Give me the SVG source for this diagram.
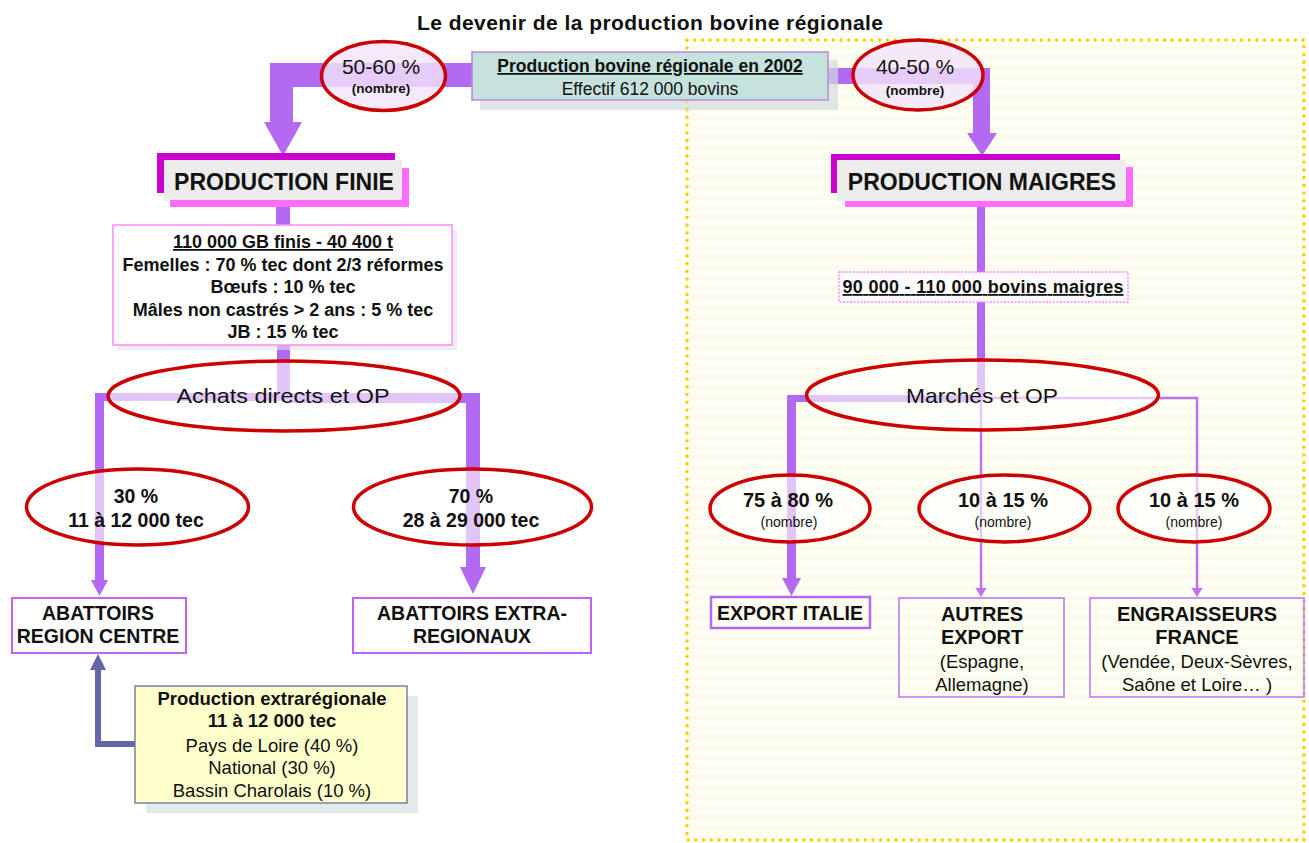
<svg xmlns="http://www.w3.org/2000/svg" width="1309" height="843" viewBox="0 0 1309 843">
<defs>
<style>
.t{font-family:"Liberation Sans",Arial,Helvetica,sans-serif;fill:#111;text-anchor:middle}
.b{font-weight:bold}
.u{text-decoration:underline}
.ell{fill:#fff;fill-opacity:0.62;stroke:#cc0000;stroke-width:3.5}
.ellTop{fill:#f1e5fa;fill-opacity:0.8;stroke:#cc0000;stroke-width:3.5}
.thick{fill:#b469f2}
.thin{stroke:#c070f0;stroke-width:2.5;fill:none}
.box{fill:#fff;stroke:#c066ee;stroke-width:2}
.boxR{fill:none;stroke:#c888f5;stroke-width:1.8}
.mag{fill:#cc00cc}
.pink{fill:#ff6cff}
.gray{fill:#ececec}
</style>
<pattern id="stripes" width="10" height="10" patternUnits="userSpaceOnUse">
<rect width="10" height="10" fill="#fffff5"/>
<rect y="5" width="10" height="5" fill="#fcfcec"/>
</pattern>
</defs>
<rect width="1309" height="843" fill="#ffffff"/>

<g id="region-maigres">
<rect x="687" y="40" width="617" height="800" fill="url(#stripes)" stroke="#ffcc00" stroke-width="3.5" stroke-dasharray="0.1 7.6" stroke-linecap="round"/>
</g>

<g id="title">
<text class="t b" x="650" y="30" font-size="21" textLength="466" lengthAdjust="spacing">Le devenir de la production bovine régionale</text>
</g>

<g id="connectors">
<path class="thick" d="M472,63 L270,63 L270,122 L264,122 L283,156 L302,122 L293,122 L293,87 L472,87 Z"/>
<path class="thick" d="M828,68 L990,68 L990,133 L997,133 L982,156 L967,133 L973,133 L973,84 L828,84 Z"/>
<rect class="thick" x="276" y="207" width="14" height="19"/>
<rect class="thick" x="277" y="345" width="13" height="54"/>
<path class="thick" d="M285,393 L95,393 L95,580 L91,580 L99.5,596 L108,580 L104,580 L104,401 L285,401 Z"/>
<path class="thick" d="M285,393 L480,393 L480,567 L486,567 L473,594 L460,567 L466,567 L466,403 L285,403 Z"/>
<path d="M135,744 L98,744 L98,668" fill="none" stroke="#6464a8" stroke-width="6"/>
<path d="M90,670 L106,670 L98,654 Z" fill="#6464a8"/>
<rect class="thick" x="977" y="207" width="8" height="65"/>
<rect class="thick" x="977" y="302" width="8" height="96"/>
<path class="thick" d="M982,395 L787,395 L787,578 L782,578 L791.5,596 L801,578 L796,578 L796,402 L982,402 Z"/>
<path class="thin" d="M981,398 L981,590"/>
<path d="M975.5,588 L986.5,588 L981,597 Z" fill="#c070f0"/>
<path class="thin" d="M982,398 L1197,398 L1197,590"/>
<path d="M1191.5,588 L1202.5,588 L1197,597 Z" fill="#c070f0"/>
</g>

<g id="node-production-2002">
<rect x="480" y="60" width="358" height="50" fill="#d3dcdc" opacity="0.7"/>
<rect x="472" y="52" width="356" height="48" fill="#c6e2dc" stroke="#bb88dd" stroke-width="1.5"/>
<text class="t b u" x="650" y="72" font-size="17.5">Production bovine régionale en 2002</text>
<text class="t" x="650" y="95" font-size="17.5">Effectif 612 000 bovins</text>
</g>

<g id="node-pct-finie">
<ellipse class="ellTop" cx="383.5" cy="76" rx="62" ry="34.5"/>
<text class="t" x="381" y="74" font-size="21">50-60 %</text>
<text class="t b" x="381" y="93" font-size="13.5">(nombre)</text>
</g>

<g id="node-pct-maigres">
<ellipse class="ellTop" cx="918" cy="75" rx="65" ry="35"/>
<text class="t" x="915" y="74" font-size="21">40-50 %</text>
<text class="t b" x="915" y="95" font-size="13.5">(nombre)</text>
</g>

<g id="node-production-finie">
<rect class="mag" x="157" y="153" width="238" height="7"/>
<rect class="mag" x="157" y="153" width="7" height="40"/>
<rect class="gray" x="164" y="160" width="238" height="41"/>
<rect class="pink" x="402" y="168" width="7" height="39"/>
<rect class="pink" x="170" y="200" width="239" height="7"/>
<text class="t b" x="284" y="190" font-size="23">PRODUCTION FINIE</text>
</g>

<g id="node-finie-detail">
<rect x="118" y="230" width="339" height="120" fill="#e2e2e2" opacity="0.6"/>
<rect x="113" y="225" width="339" height="120" fill="#fff" stroke="#ff88ff" stroke-width="1.5"/>
<text class="t b u" x="283" y="248" font-size="18">110 000 GB finis - 40 400 t</text>
<text class="t b" x="283" y="271" font-size="18">Femelles : 70 % tec dont 2/3 réformes</text>
<text class="t b" x="283" y="293" font-size="18">Bœufs : 10 % tec</text>
<text class="t b" x="283" y="316" font-size="18">Mâles non castrés &gt; 2 ans : 5 % tec</text>
<text class="t b" x="283" y="338" font-size="18">JB : 15 % tec</text>
</g>

<g id="node-achats">
<ellipse class="ell" cx="284" cy="396" rx="176" ry="35"/>
<text class="t" x="283" y="403" font-size="21" textLength="213" lengthAdjust="spacingAndGlyphs">Achats directs et OP</text>
</g>

<g id="node-pct-30">
<ellipse class="ell" cx="137.5" cy="507" rx="111" ry="38"/>
<text class="t b" x="136" y="503" font-size="19.5">30 %</text>
<text class="t b" x="136" y="527" font-size="19.5">11 à 12 000 tec</text>
</g>

<g id="node-pct-70">
<ellipse class="ell" cx="472.5" cy="507" rx="119" ry="38"/>
<text class="t b" x="471" y="503" font-size="19.5">70 %</text>
<text class="t b" x="471" y="527" font-size="19.5">28 à 29 000 tec</text>
</g>

<g id="node-abattoirs-centre">
<rect class="box" x="12" y="598" width="174" height="55"/>
<text class="t b" x="98" y="620" font-size="19.5">ABATTOIRS</text>
<text class="t b" x="98" y="643" font-size="19.5">REGION CENTRE</text>
</g>

<g id="node-abattoirs-extra">
<rect class="box" x="353" y="598" width="238" height="55"/>
<text class="t b" x="472" y="620" font-size="19.5">ABATTOIRS EXTRA-</text>
<text class="t b" x="472" y="643" font-size="19.5">REGIONAUX</text>
</g>

<g id="node-production-extraregionale">
<rect x="146" y="696" width="272" height="117" fill="#d4e2e2" opacity="0.7"/>
<rect x="135" y="686" width="272" height="117" fill="#ffffcc" stroke="#7f7f9f" stroke-width="1.5"/>
<text class="t b" x="272" y="705" font-size="18.5">Production extrarégionale</text>
<text class="t b" x="272" y="727" font-size="18.5">11 à 12 000 tec</text>
<text class="t" x="272" y="752" font-size="18.5">Pays de Loire (40 %)</text>
<text class="t" x="272" y="774" font-size="18.5">National (30 %)</text>
<text class="t" x="272" y="797" font-size="18.5">Bassin Charolais (10 %)</text>
</g>

<g id="node-production-maigres">
<rect class="mag" x="831" y="154" width="289" height="6"/>
<rect class="mag" x="831" y="154" width="6" height="39"/>
<rect class="gray" x="837" y="160" width="289" height="41"/>
<rect class="pink" x="1126" y="167" width="7" height="40"/>
<rect class="pink" x="845" y="201" width="288" height="6"/>
<text class="t b" x="982" y="190" font-size="23">PRODUCTION MAIGRES</text>
</g>

<g id="node-maigres-detail">
<rect x="839" y="272" width="289" height="30" fill="#fffbff" stroke="#ff88ff" stroke-width="1.5" stroke-dasharray="2 1.5"/>
<text class="t b u" x="983" y="293" font-size="18" textLength="281" lengthAdjust="spacing">90 000 - 110 000 bovins maigres</text>
</g>

<g id="node-marches">
<ellipse class="ell" cx="982.5" cy="395" rx="176" ry="35"/>
<text class="t" x="982" y="403" font-size="21" textLength="152" lengthAdjust="spacingAndGlyphs">Marchés et OP</text>
</g>

<g id="node-pct-italie">
<ellipse class="ell" cx="790" cy="508.5" rx="80" ry="33.5"/>
<text class="t b" x="788" y="507" font-size="20">75 à 80 %</text>
<text class="t" x="789" y="527" font-size="14">(nombre)</text>
</g>

<g id="node-pct-autres">
<ellipse class="ell" cx="1004.5" cy="508.5" rx="85.5" ry="33.5"/>
<text class="t b" x="1003" y="507" font-size="20">10 à 15 %</text>
<text class="t" x="1003" y="527" font-size="14">(nombre)</text>
</g>

<g id="node-pct-engraisseurs">
<ellipse class="ell" cx="1194" cy="508.5" rx="76" ry="33.5"/>
<text class="t b" x="1194" y="507" font-size="20">10 à 15 %</text>
<text class="t" x="1194" y="527" font-size="14">(nombre)</text>
</g>

<g id="node-export-italie">
<rect x="711" y="597" width="159" height="31" fill="none" stroke="#b366ee" stroke-width="2.5"/>
<text class="t b" x="790" y="620" font-size="19.5">EXPORT ITALIE</text>
</g>

<g id="node-autres-export">
<rect class="boxR" x="899" y="598" width="165" height="99"/>
<text class="t b" x="982" y="621" font-size="20">AUTRES</text>
<text class="t b" x="982" y="644" font-size="20">EXPORT</text>
<text class="t" x="982" y="668" font-size="18.5">(Espagne,</text>
<text class="t" x="982" y="691" font-size="18.5">Allemagne)</text>
</g>

<g id="node-engraisseurs">
<rect class="boxR" x="1090" y="598" width="214" height="99"/>
<text class="t b" x="1197" y="621" font-size="20">ENGRAISSEURS</text>
<text class="t b" x="1197" y="644" font-size="20">FRANCE</text>
<text class="t" x="1197" y="668" font-size="18.5">(Vendée, Deux-Sèvres,</text>
<text class="t" x="1197" y="691" font-size="18.5">Saône et Loire… )</text>
</g>
</svg>
